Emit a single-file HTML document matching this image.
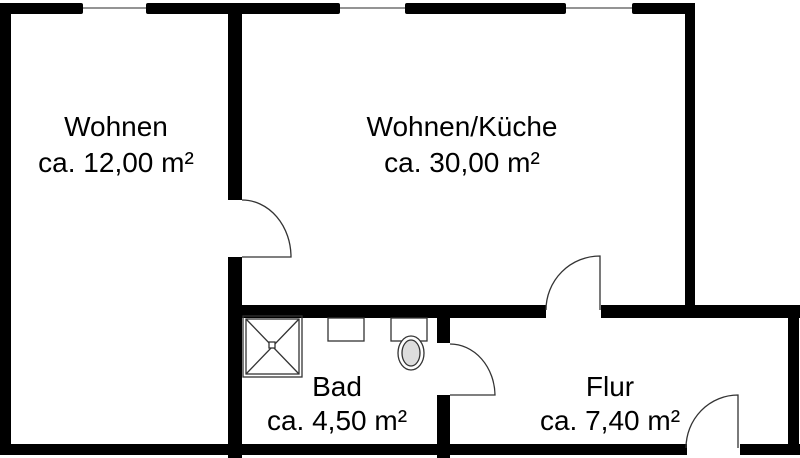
<!DOCTYPE html>
<html><head><meta charset="utf-8"><style>
html,body{margin:0;padding:0;background:#fff}
svg{display:block}
text{font-family:"Liberation Sans",sans-serif;font-size:28px;fill:#000;text-anchor:middle}
</style></head><body>
<svg width="800" height="458" viewBox="0 0 800 458">
<g fill="#000">
<rect x="0" y="3" width="83" height="11" rx="2"/>
<rect x="146" y="3" width="194" height="11" rx="2"/>
<rect x="405" y="3" width="161" height="11" rx="2"/>
<rect x="632" y="3" width="63" height="11" rx="2"/>
<rect x="0" y="3" width="11" height="452"/>
<rect x="685" y="3" width="10" height="315"/>
<rect x="228" y="3" width="14" height="197"/>
<rect x="228" y="257" width="14" height="201"/>
<rect x="228" y="305" width="318" height="13"/>
<rect x="601" y="305" width="199" height="13"/>
<rect x="788" y="305" width="11" height="150"/>
<rect x="437" y="318" width="13" height="25"/>
<rect x="437" y="395" width="13" height="63"/>
<rect x="0" y="444" width="687" height="11"/>
<rect x="740" y="444" width="60" height="11"/>
</g>
<g stroke="#555" stroke-width="1.2" fill="none">
<line x1="83" y1="8" x2="146" y2="8"/>
<line x1="340" y1="8" x2="405" y2="8"/>
<line x1="566" y1="8" x2="632" y2="8"/>
</g>
<g stroke="#333" stroke-width="1.3" fill="none">
<path d="M242 257 H291 A49 57 0 0 0 242 200"/>
<path d="M600 310 V256 A54 54 0 0 0 546 310"/>
<path d="M450 395 H495 A45 52 0 0 0 450 344"/>
<path d="M738 448 V395 A52 53 0 0 0 686 448"/>
<rect x="243" y="316" width="59" height="61"/>
<rect x="246" y="319" width="53" height="55"/>
<line x1="246" y1="319" x2="299" y2="374"/>
<line x1="299" y1="319" x2="246" y2="374"/>
<rect x="269" y="342" width="6" height="6" fill="#fff"/>
<rect x="328" y="318" width="36" height="23"/>
<rect x="391" y="318" width="36" height="23"/>
<ellipse cx="411" cy="353" rx="13" ry="17" fill="#fff"/>
<ellipse cx="411" cy="353" rx="9" ry="13" fill="#ddd"/>
</g>
<text x="116" y="136">Wohnen</text>
<text x="116" y="172">ca. 12,00 m²</text>
<text x="462" y="136">Wohnen/Küche</text>
<text x="462" y="172">ca. 30,00 m²</text>
<text x="337" y="396">Bad</text>
<text x="337" y="430">ca. 4,50 m²</text>
<text x="610" y="396">Flur</text>
<text x="610" y="430">ca. 7,40 m²</text>
</svg>
</body></html>
